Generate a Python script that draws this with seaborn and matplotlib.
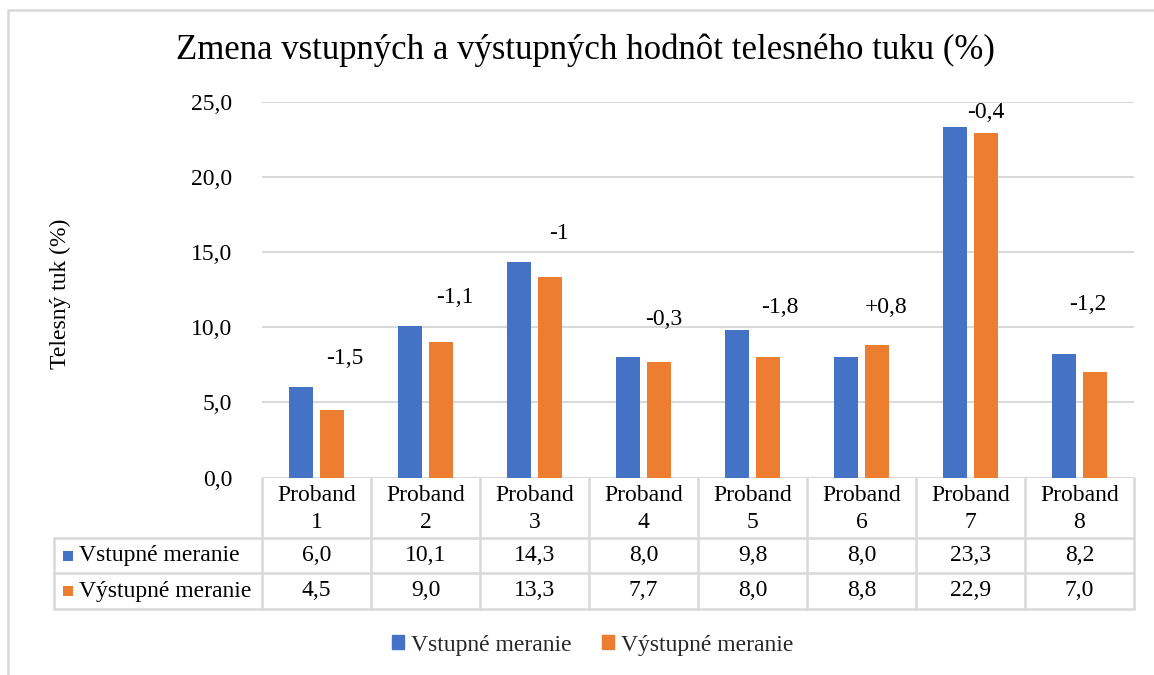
import matplotlib
matplotlib.use("Agg")
import matplotlib.pyplot as plt
import matplotlib.transforms as mtransforms
from matplotlib.lines import Line2D
from matplotlib.patches import Rectangle
import seaborn as sns
import pandas as pd

# ---------------- data ----------------
categories = ["Proband 1", "Proband 2", "Proband 3", "Proband 4",
              "Proband 5", "Proband 6", "Proband 7", "Proband 8"]
header_labels = ["Proband\n1", "Proband\n2", "Proband\n3", "Proband\n4",
                 "Proband\n5", "Proband\n6", "Proband\n7", "Proband\n8"]
series_names = ["Vstupné meranie", "Výstupné meranie"]
vstupne = [6.0, 10.1, 14.3, 8.0, 9.8, 8.0, 23.3, 8.2]
vystupne = [4.5, 9.0, 13.3, 7.7, 8.0, 8.8, 22.9, 7.0]
diff_labels = ["-1,5", "-1,1", "-1", "-0,3", "-1,8", "+0,8", "-0,4", "-1,2"]
diff_label_y = [7.9, 12.0, 16.2, 10.5, 11.3, 11.3, 24.3, 11.5]
diff_label_dx = [0.26, 0.266, 0.225, 0.19, 0.25, 0.225, 0.14, 0.08]
yticks = [0, 5, 10, 15, 20, 25]
title = "Zmena vstupných a výstupných hodnôt telesného tuku (%)"
ylabel = "Telesný tuk (%)"

BLUE = "#4472C4"
ORANGE = "#ED7D31"
GRID = "#D9D9D9"
TXT = "#000000"
FONT = "Liberation Serif"
FS = 17

df = pd.DataFrame({
    "proband": categories * 2,
    "meranie": [series_names[0]] * len(categories) + [series_names[1]] * len(categories),
    "value": vstupne + vystupne,
})

def fmt(v):
    return f"{v:.1f}".replace(".", ",")

sns.set_theme(style="white")
plt.rcParams["font.family"] = [FONT, "DejaVu Serif"]

W, H = 1154, 675
fig = plt.figure(figsize=(W / 100, H / 100), dpi=100)
fig.patch.set_facecolor("white")

x0, x1 = 262, 1134
y_top, y_zero = 101.5, 477.5
ax = fig.add_axes([x0 / W, 1 - y_zero / H, (x1 - x0) / W, (y_zero - y_top) / H])

sns.barplot(data=df, x="proband", y="value", hue="meranie",
            palette=[BLUE, ORANGE], width=0.56, gap=0.2, saturation=1,
            edgecolor="none", linewidth=0, ax=ax, zorder=3)

ax.set_ylim(0, 25)
ax.set_xlim(-0.5, len(categories) - 0.5)
ax.set_yticks(yticks)
ax.set_yticklabels([fmt(v) for v in yticks], fontsize=FS, color=TXT, family=FONT)
ax.tick_params(axis="y", length=0, pad=21.6)
ax.set_xticks([])
ax.set_xlabel("")
ax.set_ylabel("")
for s in ax.spines.values():
    s.set_visible(False)
for v in yticks:
    ax.axhline(v, color=GRID, lw=1.5, zorder=1)

if ax.get_legend() is not None:
    ax.get_legend().remove()

# difference annotations
for i, (lab, yv, dx) in enumerate(zip(diff_labels, diff_label_y, diff_label_dx)):
    ax.text(i + dx, yv, lab, ha="center", va="center", fontsize=FS,
            color=TXT, family=FONT, zorder=4)

# ---------------- data table ----------------
ax_h = y_zero - y_top
def ya(py):
    return -(py - y_zero) / ax_h

blend = mtransforms.blended_transform_factory(ax.transData, ax.transAxes)
hdr_bot, r1_bot, r2_bot = ya(538), ya(573), ya(609)
lab_left = (54 - x0) / (x1 - x0)

for b in range(len(categories) + 1):
    ax.add_line(Line2D([b - 0.5, b - 0.5], [0, r2_bot], transform=blend,
                       color=GRID, lw=1.8, clip_on=False))
for yy in [hdr_bot, r1_bot, r2_bot]:
    ax.add_line(Line2D([lab_left, 1], [yy, yy], transform=ax.transAxes,
                       color=GRID, lw=1.8, clip_on=False))
ax.add_line(Line2D([lab_left, lab_left], [hdr_bot, r2_bot], transform=ax.transAxes,
                   color=GRID, lw=1.8, clip_on=False))

hdr_c = ya(509)
r1_c = (hdr_bot + r1_bot) / 2
r2_c = (r1_bot + r2_bot) / 2
for i, lab in enumerate(header_labels):
    ax.text(i, hdr_c, lab, transform=blend, ha="center", va="center",
            fontsize=FS, color=TXT, family=FONT, linespacing=1.32)
    ax.text(i, r1_c, fmt(vstupne[i]), transform=blend, ha="center", va="center",
            fontsize=FS, color=TXT, family=FONT)
    ax.text(i, r2_c, fmt(vystupne[i]), transform=blend, ha="center", va="center",
            fontsize=FS, color=TXT, family=FONT)

sq_x = (68 - x0) / (x1 - x0)
tx_x = (79 - x0) / (x1 - x0)
for yc, name, col in [(r1_c, series_names[0], BLUE), (r2_c, series_names[1], ORANGE)]:
    ax.scatter([sq_x], [yc], marker="s", s=55, color=col, transform=ax.transAxes,
               clip_on=False, linewidths=0)
    ax.text(tx_x, yc, name, transform=ax.transAxes, ha="left", va="center",
            fontsize=FS, color=TXT, family=FONT)

# ---------------- titles / legend ----------------
fig.text(585 / W, 1 - 50 / H, title, ha="center", va="center",
         fontsize=25, color=TXT, family=FONT)
fig.text(60 / W, 1 - 294 / H, ylabel, ha="center", va="center", rotation=90,
         fontsize=FS, color=TXT, family=FONT)

handles = [Rectangle((0, 0), 1, 1, color=BLUE), Rectangle((0, 0), 1, 1, color=ORANGE)]
fig.legend(handles, series_names, loc="center", bbox_to_anchor=(593 / W, 1 - 645 / H),
           ncol=2, frameon=False, prop={"family": FONT, "size": FS},
           handlelength=0.5, handleheight=0.5, handletextpad=0.3, columnspacing=1.3)

fig.add_artist(Rectangle((8 / W, -0.05), 1.2, 1 - 10 / H + 0.05, transform=fig.transFigure,
                         fill=False, edgecolor=GRID, lw=1.8))

fig.savefig("out.png", dpi=100, facecolor="white")
